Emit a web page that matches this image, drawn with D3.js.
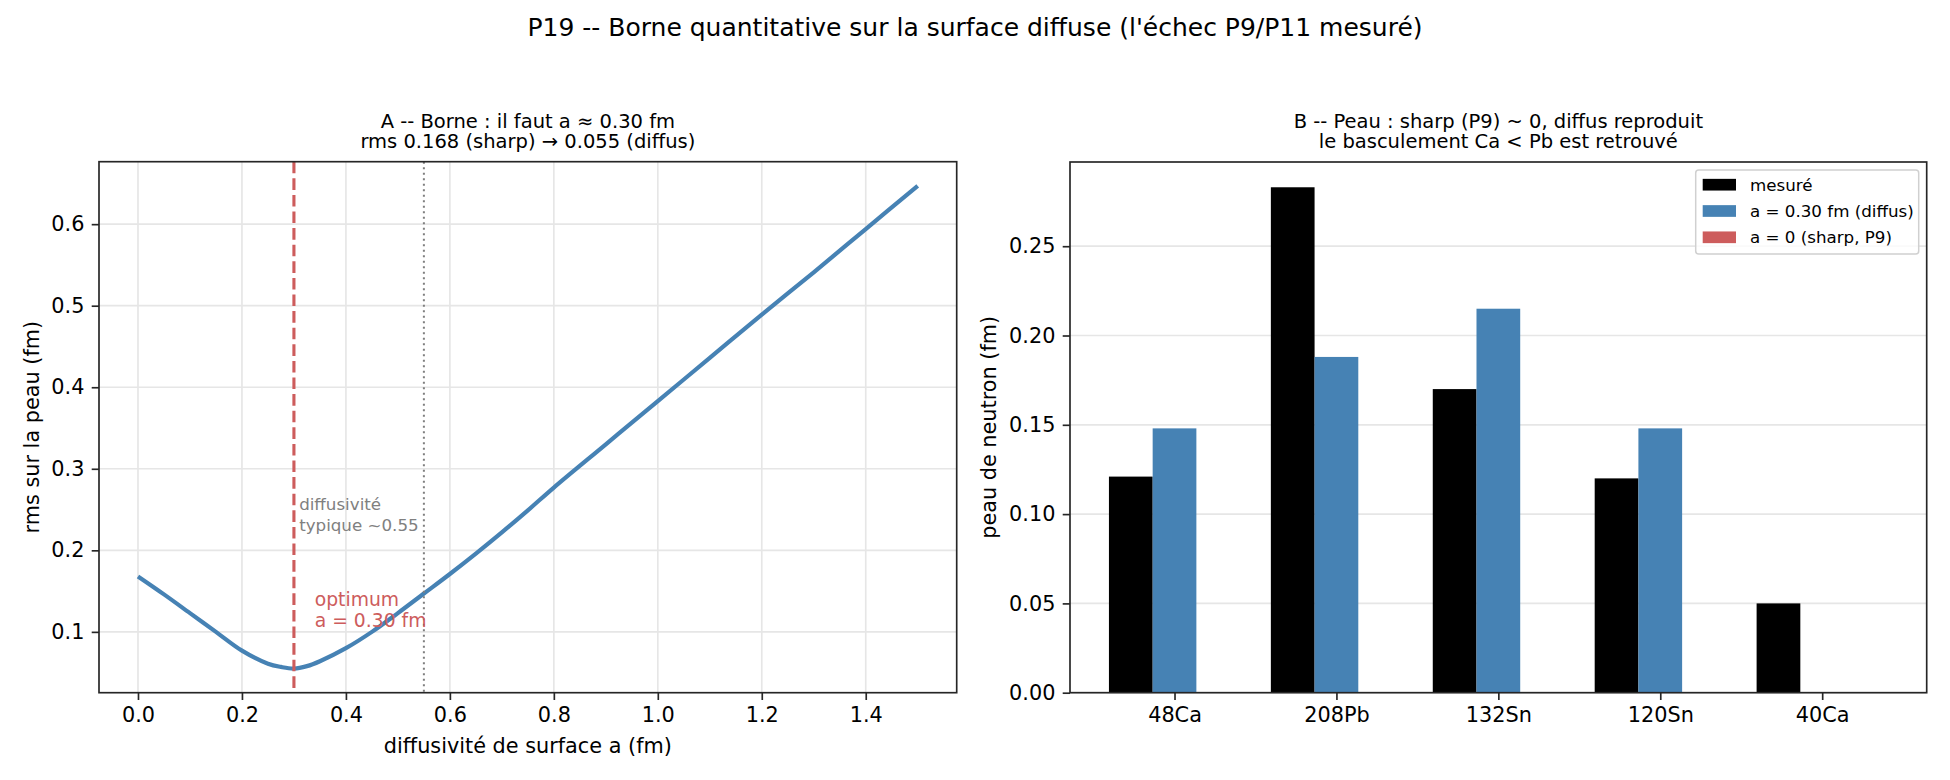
<!DOCTYPE html>
<html>
<head>
<meta charset="utf-8">
<script src="https://cdn.jsdelivr.net/npm/d3@7"></script>
<style>
  body { margin: 0; background: #fff; }
  text { font-family: "DejaVu Sans", sans-serif; }
</style>
</head>
<body>
<div id="chart"></div>
<script>
const width = 1950;
const height = 780;

// Panel A -- rms on the skin vs surface diffusivity
const diffusivity = [0.00, 0.05, 0.10, 0.15, 0.20, 0.25, 0.275, 0.30, 0.325, 0.35, 0.40, 0.45, 0.50, 0.55,
                     0.60, 0.65, 0.70, 0.75, 0.80, 0.90, 1.00, 1.10, 1.20, 1.30, 1.40, 1.50];
const rmsSkin = [0.168, 0.146, 0.123, 0.100, 0.077, 0.061, 0.057, 0.055, 0.058, 0.064, 0.080, 0.100, 0.123, 0.147,
                 0.171, 0.196, 0.222, 0.249, 0.277, 0.330, 0.383, 0.436, 0.489, 0.541, 0.594, 0.647];
const aOptimum = 0.30;
const aTypical = 0.55;
const xTicksA = [0.0, 0.2, 0.4, 0.6, 0.8, 1.0, 1.2, 1.4];
const yTicksA = [0.1, 0.2, 0.3, 0.4, 0.5, 0.6];

// Panel B -- neutron skin per nucleus
const nuclei = ["48Ca", "208Pb", "132Sn", "120Sn", "40Ca"];
const measured = [0.121, 0.283, 0.170, 0.120, 0.050];
const diffuse = [0.148, 0.188, 0.215, 0.148, 0.0];
const sharp = [0.0, 0.0, 0.0, 0.0, 0.0];
const seriesNames = ["mesuré", "a = 0.30 fm (diffus)", "a = 0 (sharp, P9)"];
const seriesColors = ["#000000", "#4682b4", "#cd5c5c"];
const yTicksB = [0.00, 0.05, 0.10, 0.15, 0.20, 0.25];
const barWidth = 0.27;

// layout (pixels)
const boxA = { left: 99, right: 956.7, top: 161.7, bottom: 692.7 };
const boxB = { left: 1070, right: 1926.7, top: 162, bottom: 692.7 };
const tickLen = 7.3, tickPad = 7.3;
const gridColor = "#e6e6e6";
const spineColor = "#262626";

const pad5 = ([lo, hi]) => [lo - (hi - lo) * 0.05, hi + (hi - lo) * 0.05];

const svg = d3.select("#chart")
    .append("svg")
    .attr("width", width)
    .attr("height", height);

// suptitle
svg.append("text")
    .attr("x", width / 2)
    .attr("y", 36)
    .attr("text-anchor", "middle")
    .style("font-size", "25px")
    .text("P19 -- Borne quantitative sur la surface diffuse (l'échec P9/P11 mesuré)");

function axisTitle(box, lines) {
    const cx = (box.left + box.right) / 2;
    lines.forEach((t, i) => {
        svg.append("text")
            .attr("x", cx)
            .attr("y", 127.7 + i * 20.7)
            .attr("text-anchor", "middle")
            .style("font-size", "19.5px")
            .text(t);
    });
}

function styleAxis(g) {
    g.select(".domain").remove();
    g.selectAll(".tick line").attr("stroke", spineColor).attr("stroke-width", 1.67);
    g.selectAll(".tick text")
        .attr("fill", "#000")
        .style("font-size", "20.8px")
        .style("font-family", "DejaVu Sans");
}

function spines(box) {
    svg.append("rect")
        .attr("x", box.left)
        .attr("y", box.top)
        .attr("width", box.right - box.left)
        .attr("height", box.bottom - box.top)
        .attr("fill", "none")
        .attr("stroke", spineColor)
        .attr("stroke-width", 1.67);
}

// ---------- Panel A ----------
const xA = d3.scaleLinear()
    .domain(pad5(d3.extent(diffusivity)))
    .range([boxA.left, boxA.right]);
const yA = d3.scaleLinear()
    .domain(pad5(d3.extent(rmsSkin)))
    .range([boxA.bottom, boxA.top]);

const gA = svg.append("g");

// grid
gA.append("g").selectAll("line")
    .data(xTicksA)
    .join("line")
    .attr("x1", d => xA(d)).attr("x2", d => xA(d))
    .attr("y1", boxA.top).attr("y2", boxA.bottom)
    .attr("stroke", gridColor).attr("stroke-width", 1.67);
gA.append("g").selectAll("line")
    .data(yTicksA)
    .join("line")
    .attr("x1", boxA.left).attr("x2", boxA.right)
    .attr("y1", d => yA(d)).attr("y2", d => yA(d))
    .attr("stroke", gridColor).attr("stroke-width", 1.67);

// curve
gA.append("path")
    .datum(diffusivity.map((a, i) => [a, rmsSkin[i]]))
    .attr("d", d3.line().x(d => xA(d[0])).y(d => yA(d[1])).curve(d3.curveCatmullRom.alpha(0.5)))
    .attr("fill", "none")
    .attr("stroke", "#4682b4")
    .attr("stroke-width", 4.2);

// optimum and typical lines
gA.append("line")
    .attr("x1", xA(aOptimum)).attr("x2", xA(aOptimum))
    .attr("y1", boxA.top).attr("y2", boxA.bottom)
    .attr("stroke", "#cd5c5c")
    .attr("stroke-width", 3.1)
    .attr("stroke-dasharray", "11.6,5");
gA.append("line")
    .attr("x1", xA(aTypical)).attr("x2", xA(aTypical))
    .attr("y1", boxA.top).attr("y2", boxA.bottom)
    .attr("stroke", "#7f7f7f")
    .attr("stroke-width", 2)
    .attr("stroke-dasharray", "2.1,3.4");

// annotations
const typText = gA.append("text")
    .attr("fill", "#808080")
    .style("font-size", "16.7px");
["diffusivité", "typique ~0.55"].forEach((t, i) => {
    typText.append("tspan")
        .attr("x", xA(0.31))
        .attr("y", yA(0.219) - 4 - (1 - i) * 20.5)
        .text(t);
});
const optText = gA.append("text")
    .attr("fill", "#cd5c5c")
    .style("font-size", "18.75px");
["optimum", "a = 0.30 fm"].forEach((t, i) => {
    optText.append("tspan")
        .attr("x", xA(0.34))
        .attr("y", yA(0.10) - 4.5 - (1 - i) * 21)
        .text(t);
});

spines(boxA);

gA.append("g")
    .attr("transform", `translate(0,${boxA.bottom})`)
    .call(d3.axisBottom(xA).tickValues(xTicksA).tickFormat(d3.format(".1f"))
        .tickSize(tickLen).tickPadding(tickPad))
    .call(styleAxis);
gA.append("g")
    .attr("transform", `translate(${boxA.left},0)`)
    .call(d3.axisLeft(yA).tickValues(yTicksA).tickFormat(d3.format(".1f"))
        .tickSize(tickLen).tickPadding(tickPad))
    .call(styleAxis);

svg.append("text")
    .attr("x", (boxA.left + boxA.right) / 2)
    .attr("y", 753)
    .attr("text-anchor", "middle")
    .style("font-size", "20.8px")
    .text("diffusivité de surface a (fm)");
svg.append("text")
    .attr("transform", `translate(39,${(boxA.top + boxA.bottom) / 2}) rotate(-90)`)
    .attr("text-anchor", "middle")
    .style("font-size", "20.8px")
    .text("rms sur la peau (fm)");

axisTitle(boxA, ["A -- Borne : il faut a ≈ 0.30 fm", "rms 0.168 (sharp) → 0.055 (diffus)"]);

// ---------- Panel B ----------
const series = [measured, diffuse, sharp];
const idx = nuclei.map((d, i) => i);
const xB = d3.scaleLinear()
    .domain(pad5([-barWidth * 1.5, nuclei.length - 1 + barWidth * 1.5]))
    .range([boxB.left, boxB.right]);
const yB = d3.scaleLinear()
    .domain([0, d3.max(series.flat()) * 1.05])
    .range([boxB.bottom, boxB.top]);

const gB = svg.append("g");

gB.append("g").selectAll("line")
    .data(yTicksB)
    .join("line")
    .attr("x1", boxB.left).attr("x2", boxB.right)
    .attr("y1", d => yB(d)).attr("y2", d => yB(d))
    .attr("stroke", gridColor).attr("stroke-width", 1.67);

series.forEach((vals, k) => {
    gB.append("g")
        .selectAll("rect")
        .data(vals)
        .join("rect")
        .attr("x", (d, i) => xB(i + (k - 1) * barWidth - barWidth / 2))
        .attr("width", xB(barWidth) - xB(0))
        .attr("y", d => yB(d))
        .attr("height", d => yB(0) - yB(d))
        .attr("fill", seriesColors[k]);
});

spines(boxB);

gB.append("g")
    .attr("transform", `translate(0,${boxB.bottom})`)
    .call(d3.axisBottom(xB).tickValues(idx).tickFormat(i => nuclei[i])
        .tickSize(tickLen).tickPadding(tickPad))
    .call(styleAxis);
gB.append("g")
    .attr("transform", `translate(${boxB.left},0)`)
    .call(d3.axisLeft(yB).tickValues(yTicksB).tickFormat(d3.format(".2f"))
        .tickSize(tickLen).tickPadding(tickPad))
    .call(styleAxis);

svg.append("text")
    .attr("transform", `translate(996,${(boxB.top + boxB.bottom) / 2}) rotate(-90)`)
    .attr("text-anchor", "middle")
    .style("font-size", "20.8px")
    .text("peau de neutron (fm)");

axisTitle(boxB, ["B -- Peau : sharp (P9) ~ 0, diffus reproduit", "le basculement Ca < Pb est retrouvé"]);

// legend
const legend = gB.append("g")
    .attr("transform", `translate(${boxB.right - 8 - 223},${boxB.top + 8})`);
legend.append("rect")
    .attr("width", 223).attr("height", 84)
    .attr("rx", 3)
    .attr("fill", "#fff").attr("fill-opacity", 0.8)
    .attr("stroke", "#d0d0d0").attr("stroke-width", 1.5);
seriesNames.forEach((name, k) => {
    const cy = 14.7 + k * 26.3;
    legend.append("rect")
        .attr("x", 7).attr("y", cy - 5.85)
        .attr("width", 33.3).attr("height", 11.7)
        .attr("fill", seriesColors[k]);
    legend.append("text")
        .attr("x", 54.3).attr("y", cy + 6)
        .style("font-size", "16.7px")
        .text(name);
});
</script>
</body>
</html>
